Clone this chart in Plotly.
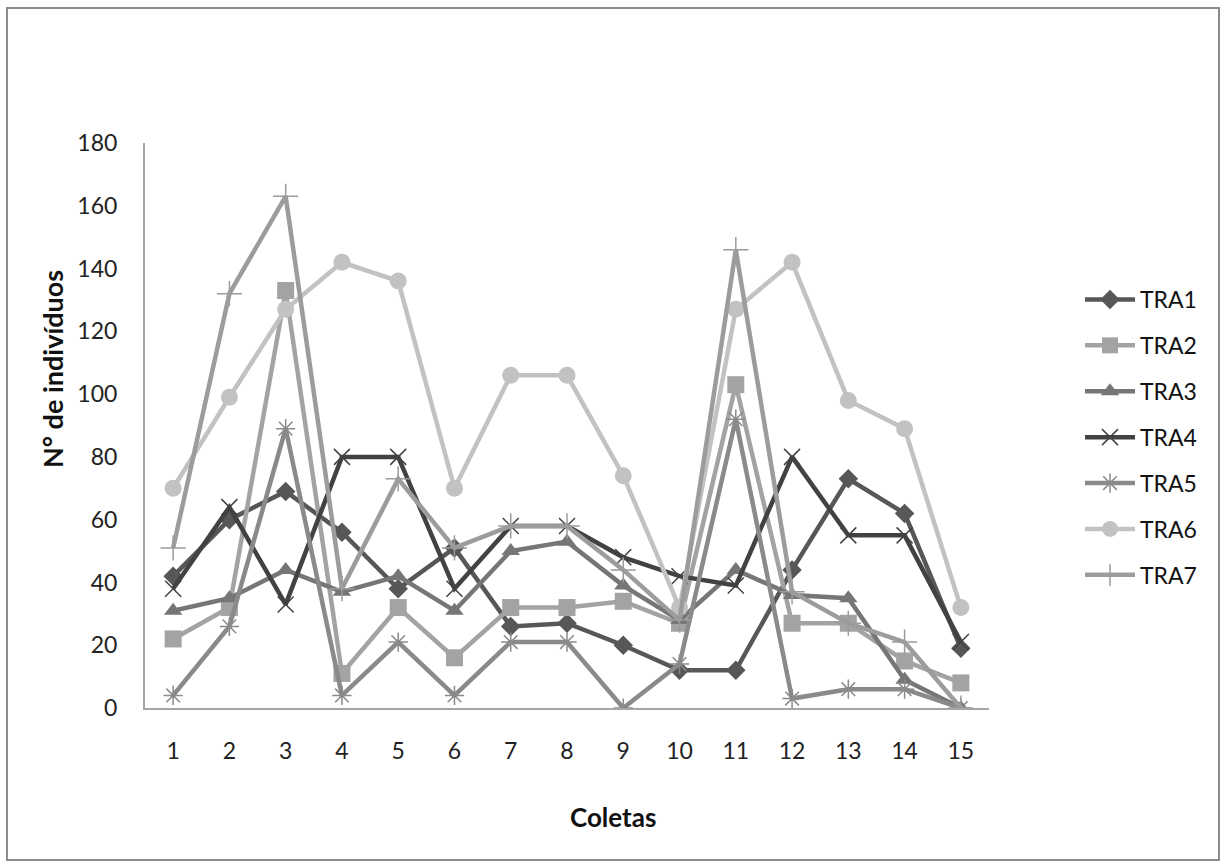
import plotly.graph_objects as go

coletas = list(range(1, 16))
series_names = ["TRA1", "TRA2", "TRA3", "TRA4", "TRA5", "TRA6", "TRA7"]
TRA1 = [42, 60, 69, 56, 38, 51, 26, 27, 20, 12, 12, 44, 73, 62, 19]
TRA2 = [22, 32, 133, 11, 32, 16, 32, 32, 34, 27, 103, 27, 27, 15, 8]
TRA3 = [31, 35, 44, 37, 42, 31, 50, 53, 39, 28, 44, 36, 35, 9, 0]
TRA4 = [38, 64, 33, 80, 80, 38, 58, 58, 48, 42, 39, 80, 55, 55, 21]
TRA5 = [4, 26, 89, 4, 21, 4, 21, 21, 0, 14, 92, 3, 6, 6, 0]
TRA6 = [70, 99, 127, 142, 136, 70, 106, 106, 74, 32, 127, 142, 98, 89, 32]
TRA7 = [51, 132, 163, 38, 73, 51, 58, 58, 44, 28, 146, 37, 27, 21, 0]
y_ticks = [0, 20, 40, 60, 80, 100, 120, 140, 160, 180]

data = [TRA1, TRA2, TRA3, TRA4, TRA5, TRA6, TRA7]
colors = ["#575757", "#A3A3A3", "#767676", "#424242", "#8A8A8A", "#C2C2C2", "#9C9C9C"]
symbols = ["diamond", "square", "triangle-up", "x-thin-open", "asterisk-open", "circle", "cross-thin-open"]
msizes = [15, 17, 16, 16, 16, 17, 18]
mline_colors = [None, None, None, "#8C8C8C", "#8C8C8C", None, "#8C8C8C"]

W, H = 1225, 868
L, R, T, B = 145, 989, 143, 708
FONT = "Lato, 'Open Sans', sans-serif"

fig = go.Figure()
for name, vals, c, s, ms, mlc in zip(series_names, data, colors, symbols, msizes, mline_colors):
    marker = dict(symbol=s, size=ms, color=c)
    if mlc:
        marker["line"] = dict(color=mlc, width=1.5)
    else:
        marker["line"] = dict(width=0)
    fig.add_trace(go.Scatter(
        x=coletas, y=vals, name=name, mode="lines+markers",
        line=dict(color=c, width=4.5), marker=marker,
        legendgroup=name,
    ))

def px_x(p):
    return (p - L) / (R - L)

def px_y(p):
    return (B - p) / (B - T)

fig.update_layout(
    width=W, height=H,
    margin=dict(l=L, r=W - R, t=T, b=H - B, pad=0),
    paper_bgcolor="white", plot_bgcolor="white",
    font=dict(family=FONT, size=23, color="#222222"),
    showlegend=True,
    legend=dict(
        x=px_x(1080), y=px_y(278), xanchor="left", yanchor="top",
        font=dict(size=23, color="#111111"),
        itemwidth=50, tracegroupgap=13,
        bgcolor="rgba(0,0,0,0)",
    ),
    xaxis=dict(
        range=[0.5, 15.5], tickmode="array", tickvals=coletas,
        ticktext=[str(c) for c in coletas],
        showgrid=False, zeroline=False, showline=True,
        linecolor="#A6A6A6", linewidth=2, ticks="",
        ticklabelstandoff=21, tickfont=dict(size=23, color="#222222"),
    ),
    yaxis=dict(
        range=[0, 180], tickmode="array", tickvals=y_ticks,
        showgrid=False, zeroline=False, showline=True,
        linecolor="#A6A6A6", linewidth=2, ticks="",
        ticklabelstandoff=21, tickfont=dict(size=23, color="#222222"),
    ),
    annotations=[
        dict(text="<b>N° de indivíduos</b>", x=px_x(52), y=px_y(369),
             xref="paper", yref="paper", showarrow=False, textangle=-90,
             xanchor="center", yanchor="middle",
             font=dict(size=27, color="#111111")),
        dict(text="<b>Coletas</b>", x=px_x(613), y=px_y(817),
             xref="paper", yref="paper", showarrow=False,
             xanchor="center", yanchor="middle",
             font=dict(size=26, color="#111111")),
    ],
    shapes=[
        dict(type="rect", xref="paper", yref="paper",
             x0=px_x(7), x1=px_x(1219), y0=px_y(860), y1=px_y(8),
             line=dict(color="#8C8C8C", width=2), fillcolor="rgba(0,0,0,0)",
             layer="below"),
    ],
)

fig.write_html("out.html", config={"displayModeBar": False},
               post_script="document.body.style.margin='0';document.body.style.overflow='hidden';")
